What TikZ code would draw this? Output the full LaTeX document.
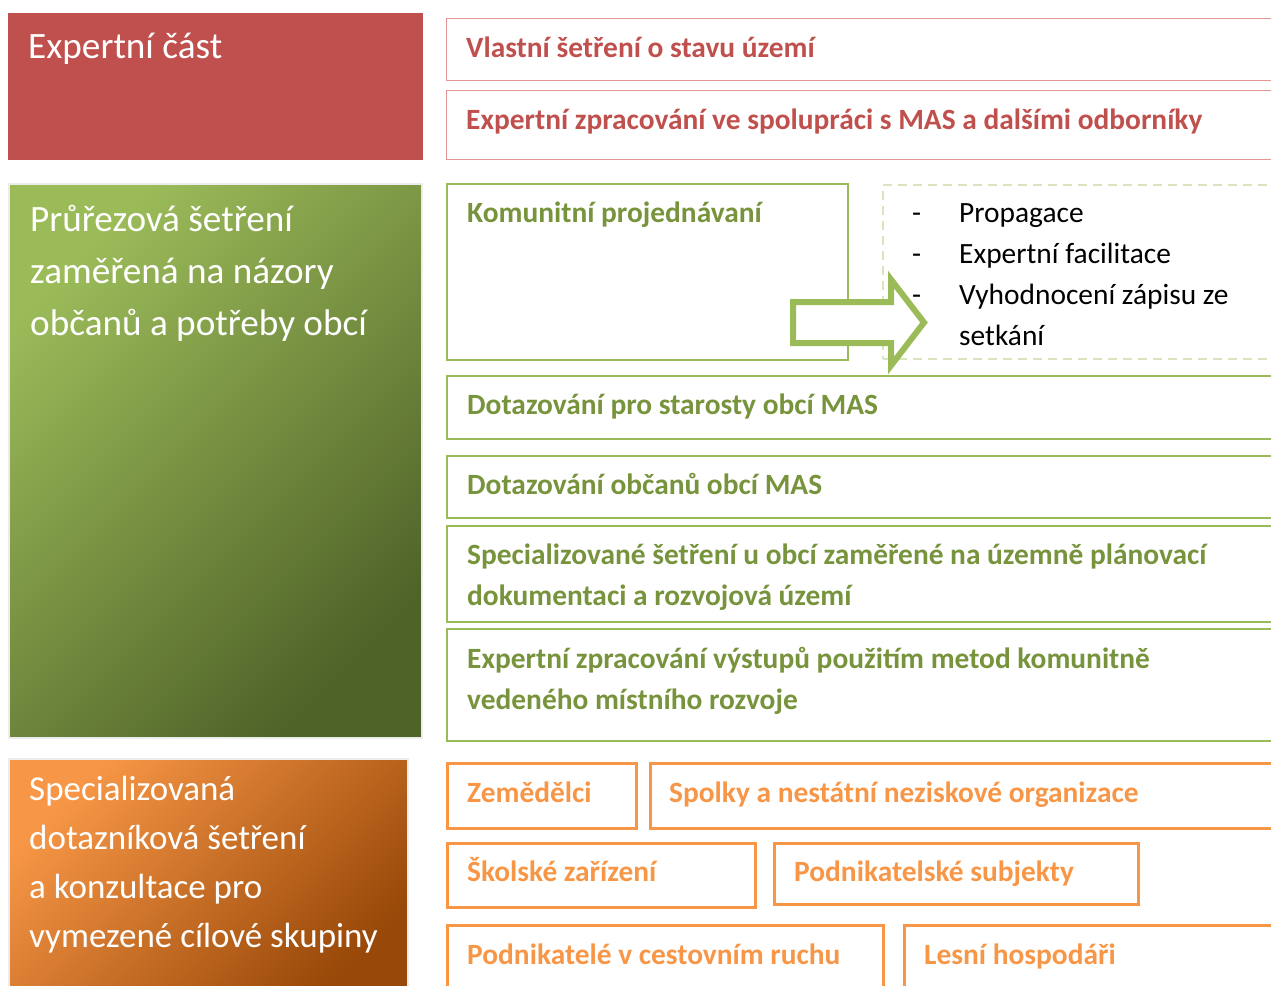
\documentclass[tikz,border=0pt]{standalone}
\usepackage{fontspec}
\setmainfont{Carlito}
\usetikzlibrary{positioning,calc,shapes.arrows}

\definecolor{brickred}{RGB}{192,80,77}
\definecolor{brickline}{RGB}{226,150,148}
\definecolor{leafgreen}{RGB}{155,187,89}
\definecolor{leafdark}{RGB}{79,98,40}
\definecolor{leaftext}{RGB}{119,147,60}
\definecolor{leafpale}{RGB}{215,228,189}
\definecolor{peachorange}{RGB}{247,150,70}
\definecolor{rustbrown}{RGB}{152,72,8}
\definecolor{panelgray}{RGB}{236,236,236}

\tikzset{
  panel/.style={anchor=north west, inner sep=0pt, outer sep=0pt, draw=panelgray, line width=2pt},
  redbox/.style={anchor=north west, inner sep=0pt, draw=brickline, line width=1.4pt},
  greenbox/.style={anchor=north west, inner sep=0pt, draw=leafgreen, line width=2.2pt},
  orangebox/.style={anchor=north west, inner sep=0pt, draw=peachorange, line width=2.6pt},
  headtext/.style={anchor=base west, inner sep=0pt, text=white, align=flush left, font=\fontsize{37.2}{52}\selectfont},
  boxtext/.style={anchor=base west, inner sep=0pt, align=flush left, font=\fontsize{29.4}{41}\selectfont\bfseries},
}

\begin{document}
\begin{tikzpicture}[x=1pt, y=-1pt]
  \useasboundingbox (0,0) rectangle (1271,985);
  \clip (0,0) rectangle (1271,985);

  % left panels
  \node[panel, draw=none, fill=brickred, minimum width=415pt, minimum height=147pt] (expert) at (8,13) {};
  \node[panel, top color=leafgreen, bottom color=leafdark, shading angle=45, minimum width=413pt, minimum height=554pt] (pruz) at (9,184) {};
  \node[panel, top color=peachorange, bottom color=rustbrown, shading angle=45, minimum width=399pt, minimum height=240pt] (skup) at (9,759) {};

  \node[headtext] (experttxt) at ($(expert.north west)+(20,45)$) {Expertní část};
  \node[headtext, text width=380pt] (pruztxt) at ($(pruz.north west)+(21,47)$) {Průřezová šetření\\zaměřená na názory\\občanů a potřeby obcí};
  \node[headtext, text width=380pt, font=\fontsize{35}{49}\selectfont] (skuptxt) at ($(skup.north west)+(20,41)$) {Specializovaná\\dotazníková šetření\\a konzultace pro\\vymezené cílové skupiny};

  % expert part
  \node[redbox, minimum width=850pt, minimum height=62pt] (vlastni) at (446,18) {};
  \node[redbox, minimum width=850pt, minimum height=69pt] (zprac) at (446,90) {};
  \node[boxtext, text=brickred] (vlastnitxt) at ($(vlastni.north west)+(20,39)$) {Vlastní šetření o stavu území};
  \node[boxtext, text=brickred] (zpractxt) at ($(zprac.north west)+(20,39)$) {Expertní zpracování ve spolupráci s MAS a dalšími odborníky};

  % cross-section surveys
  \node[greenbox, minimum width=401pt, minimum height=176pt] (komunit) at (446,183) {};
  \node[anchor=north west, inner sep=0pt, draw=leafpale, line width=1.6pt, dash pattern=on 9pt off 6pt, minimum width=420pt, minimum height=174pt] (pozn) at (882,184) {};
  \node[greenbox, minimum width=850pt, minimum height=63pt] (starosty) at (446,375) {};
  \node[greenbox, minimum width=850pt, minimum height=62pt] (obcane) at (446,455) {};
  \node[greenbox, minimum width=850pt, minimum height=96pt] (uzemi) at (446,525) {};
  \node[greenbox, minimum width=850pt, minimum height=112pt] (vystupy) at (446,628) {};

  \node[single arrow, draw=leafgreen, fill=white, line width=6pt, inner sep=17.5pt,
        minimum height=131pt, minimum width=80pt, single arrow head extend=22.5pt,
        single arrow tip angle=105, anchor=tail] (sipka) at (790,322.5) {};

  \node[boxtext, text=leaftext] (komunittxt) at ($(komunit.north west)+(21,39)$) {Komunitní projednávaní};
  \node[anchor=base west, inner sep=0pt, text width=340pt, align=flush left, font=\fontsize{29.4}{41}\selectfont] (pozntxt) at ($(pozn.north west)+(30,38)$)
    {\makebox[47pt][l]{-}Propagace\\\makebox[47pt][l]{-}Expertní facilitace\\\makebox[47pt][l]{-}Vyhodnocení zápisu ze\\\hspace*{47pt}setkání};
  \node[boxtext, text=leaftext] (starostytxt) at ($(starosty.north west)+(21,39)$) {Dotazování pro starosty obcí MAS};
  \node[boxtext, text=leaftext] (obcanetxt) at ($(obcane.north west)+(21,39)$) {Dotazování občanů obcí MAS};
  \node[boxtext, text=leaftext, text width=800pt] (uzemitxt) at ($(uzemi.north west)+(21,39)$) {Specializované šetření u obcí zaměřené na územně plánovací\\dokumentaci a rozvojová území};
  \node[boxtext, text=leaftext, text width=800pt] (vystupytxt) at ($(vystupy.north west)+(21,40)$) {Expertní zpracování výstupů použitím metod komunitně\\vedeného místního rozvoje};

  % target groups
  \node[orangebox, minimum width=189pt, minimum height=65pt] (zemed) at (446,762) {};
  \node[orangebox, minimum width=650pt, minimum height=65pt] (spolky) at (649,762) {};
  \node[orangebox, minimum width=308pt, minimum height=64pt] (skolske) at (446,842) {};
  \node[orangebox, minimum width=364pt, minimum height=61pt] (podnik) at (773,842) {};
  \node[orangebox, minimum width=436pt, minimum height=80pt] (cestov) at (446,924) {};
  \node[orangebox, minimum width=400pt, minimum height=80pt] (lesni) at (903,924) {};

  \node[boxtext, text=peachorange] (zemedtxt) at ($(zemed.north west)+(21,40)$) {Zemědělci};
  \node[boxtext, text=peachorange] (spolkytxt) at ($(spolky.north west)+(20,40)$) {Spolky a nestátní neziskové organizace};
  \node[boxtext, text=peachorange] (skolsketxt) at ($(skolske.north west)+(21,39)$) {Školské zařízení};
  \node[boxtext, text=peachorange] (podniktxt) at ($(podnik.north west)+(21,39)$) {Podnikatelské subjekty};
  \node[boxtext, text=peachorange] (cestovtxt) at ($(cestov.north west)+(21,40)$) {Podnikatelé v cestovním ruchu};
  \node[boxtext, text=peachorange] (lesnitxt) at ($(lesni.north west)+(21,40)$) {Lesní hospodáři};
\end{tikzpicture}
\end{document}
